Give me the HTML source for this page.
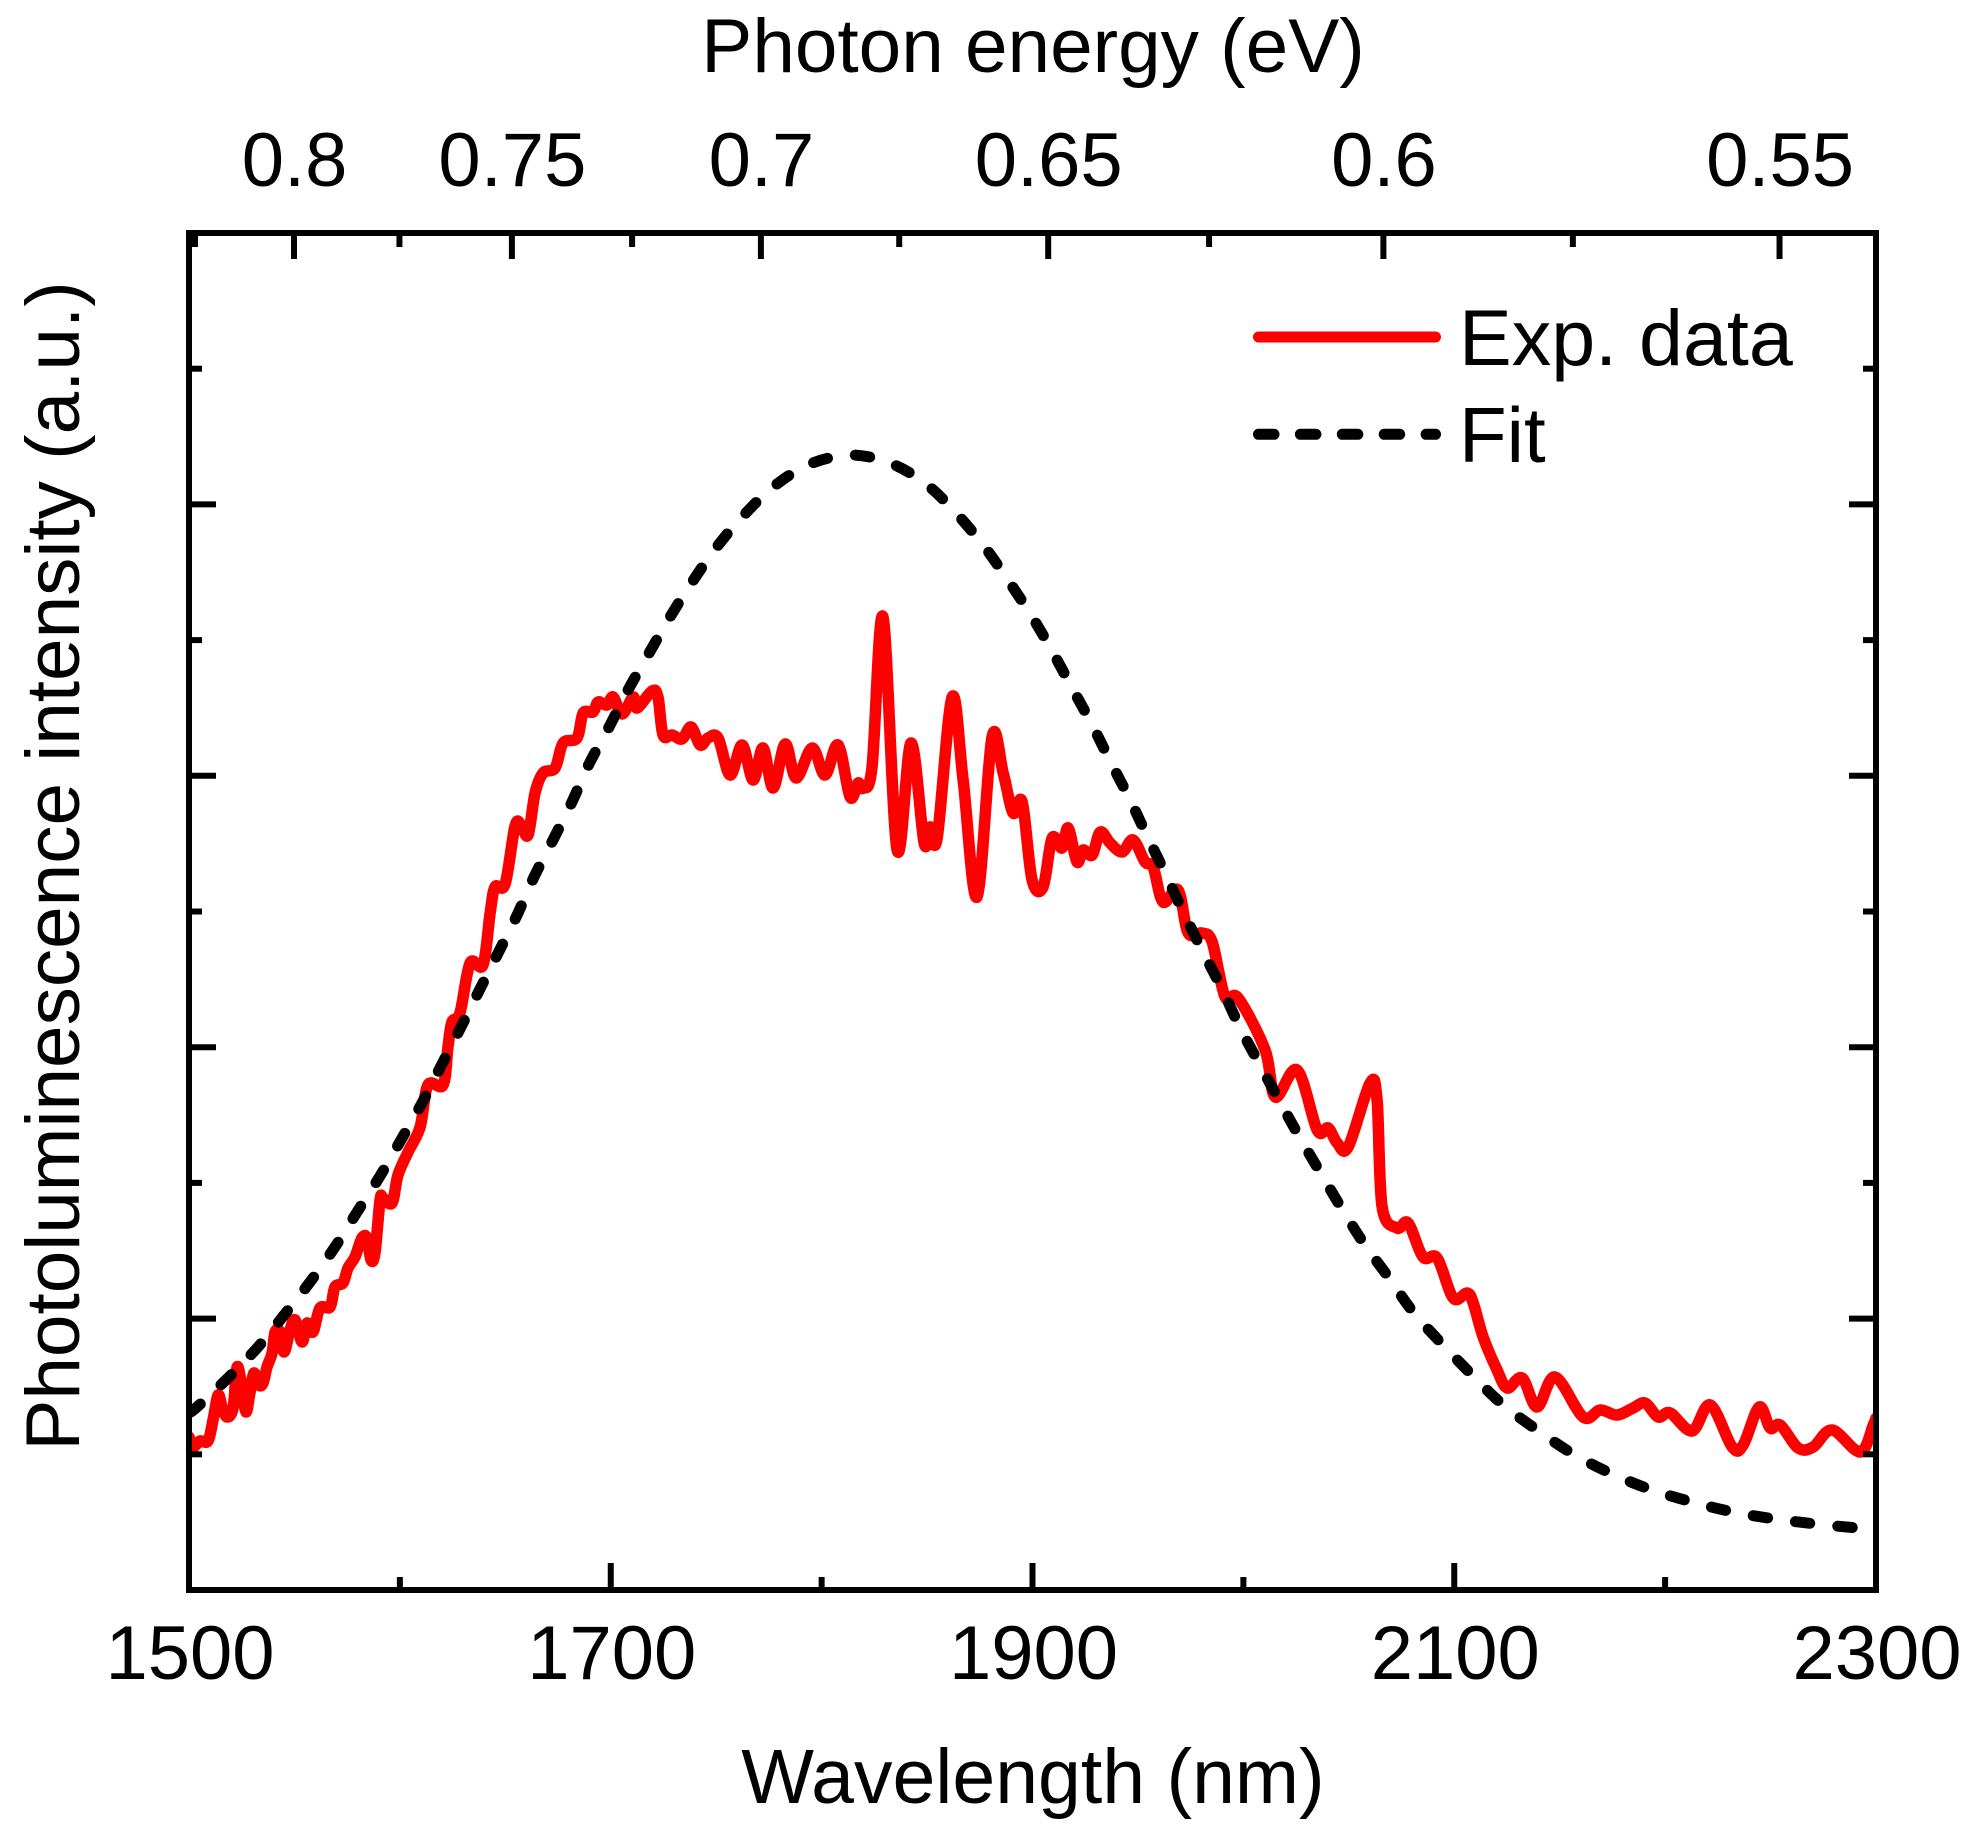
<!DOCTYPE html>
<html lang="en">
<head>
<meta charset="utf-8">
<title>Photoluminescence spectrum</title>
<style>
html,body{margin:0;padding:0;background:#fff;}
svg{display:block;}
text{font-family:"Liberation Sans",Arial,sans-serif;font-size:76.5px;fill:#000;}
</style>
</head>
<body>
<svg id="chart" xmlns="http://www.w3.org/2000/svg" width="1975" height="1833" viewBox="0 0 1975 1833">
  <defs>
    <clipPath id="plot-clip"><rect x="188.5" y="236" width="1685" height="1351"/></clipPath>
  </defs>
  <rect x="0" y="0" width="1975" height="1833" fill="#fff"/>
  <g id="series" clip-path="url(#plot-clip)"></g>
  <g id="axes"></g>
  <text x="1033" y="72" text-anchor="middle">Photon energy (eV)</text>
  <text x="1033" y="1803" text-anchor="middle" style="font-size:77px">Wavelength (nm)</text>
  <text transform="translate(79,866) rotate(-90)" text-anchor="middle">Photoluminescence intensity (a.u.)</text>
  <g>
    <line x1="1258.5" y1="337" x2="1435.5" y2="337" stroke="#ff0000" stroke-width="11" stroke-linecap="round"/>
    <text x="1459" y="365" style="font-size:79px">Exp. data</text>
    <line x1="1258.5" y1="434.3" x2="1435.5" y2="434.3" stroke="#000" stroke-width="11" stroke-linecap="round" stroke-dasharray="15.5 26.4"/>
    <text x="1459" y="462" style="font-size:78px">Fit</text>
  </g>
</svg>
<script>
// Axis domains
const xDomain = [1500, 2300];
const yDomain = [0, 13.57];

// Tick values and labels
const xMajorTicks = [1500, 1700, 1900, 2100, 2300];
const xMinorTicks = [1600, 1800, 2000, 2200];
const xTickLabels = ['1500', '1700', '1900', '2100', '2300'];
const energyMajorTicks = [0.8, 0.75, 0.7, 0.65, 0.6, 0.55];
const energyMinorTicks = [0.825, 0.775, 0.725, 0.675, 0.625, 0.575];
const energyTickLabels = ['0.8', '0.75', '0.7', '0.65', '0.6', '0.55'];
const yMajorTicks = [0, 2.714, 5.428, 8.142, 10.856, 13.57];
const yMinorTicks = [1.357, 4.071, 6.785, 9.499, 12.213];

// Experimental spectrum
const expWavelength = [1500,1501.9,1505.2,1509,1511.4,1513.8,1515.7,1518,1520.9,1522.8,1525.1,1527,1528.9,1530.8,1533.2,1535.1,1537,1539.4,1540.8,1543.2,1545.1,1547.9,1550.3,1553.6,1556,1558.8,1562.1,1566.9,1569.2,1573,1575.4,1578.7,1582,1584.4,1586.3,1588.2,1590.6,1592,1596.3,1599.1,1603.9,1609.6,1613.3,1620.5,1622.8,1624.7,1628.5,1633.3,1639.4,1642.8,1645.1,1649.9,1654.6,1657.5,1660.8,1664.1,1667.9,1673.6,1677.4,1684,1686.9,1691.6,1694,1698.2,1701.1,1705.4,1710.6,1712.5,1719.6,1722.4,1724.8,1729.1,1733.8,1738.1,1742.4,1746.1,1750.9,1756.6,1762.3,1767.5,1772.2,1777,1782.7,1787.9,1795.5,1801.6,1807.8,1813.5,1817.3,1819.7,1823.9,1829.1,1835.8,1842.4,1848.6,1851.4,1854.8,1861.9,1867.1,1873.7,1880.8,1886.1,1890.8,1895.1,1899.8,1905,1909.3,1914,1916.9,1921.1,1924,1928.3,1932.1,1936.8,1942.5,1947.7,1953.4,1957.2,1961.9,1969,1973.8,1980.4,1985.2,1991.3,1997.5,2010.3,2015.1,2025.5,2035,2040.2,2044.5,2049.7,2060.1,2063.4,2065.8,2072.9,2078.1,2085.2,2091.9,2099.5,2106.1,2109,2113.7,2120.3,2125.1,2132.2,2139.3,2147.8,2161.1,2169.2,2177.2,2184.8,2190.5,2196.7,2202.4,2212.8,2221.4,2231.8,2237,2244.6,2249.8,2254.6,2263.1,2270.2,2279.2,2292.5,2298.7,2300];
const expIntensity = [1.53,1.43,1.49,1.49,1.7,1.95,1.83,1.73,1.82,2.23,2.03,1.78,1.97,2.17,2.05,2.07,2.23,2.37,2.58,2.58,2.38,2.6,2.7,2.48,2.67,2.58,2.82,2.83,3.03,3.07,3.22,3.33,3.52,3.52,3.3,3.37,3.9,3.92,3.87,4.15,4.38,4.63,5.05,5.05,5.43,5.68,5.77,6.27,6.25,6.77,7.03,7.06,7.64,7.65,7.55,7.97,8.17,8.22,8.47,8.52,8.77,8.78,8.88,8.85,8.93,8.76,8.93,8.82,8.99,8.93,8.55,8.55,8.51,8.63,8.45,8.52,8.52,8.15,8.45,8.1,8.42,8.02,8.46,8.12,8.42,8.15,8.45,7.93,8.07,8.02,8.23,9.73,7.4,8.47,7.47,7.63,7.52,8.93,8.1,6.93,8.53,8.17,7.77,7.88,7.1,7.03,7.52,7.42,7.62,7.28,7.4,7.35,7.58,7.47,7.38,7.5,7.28,7.23,6.88,7,6.57,6.57,6.48,5.93,5.92,5.4,4.93,5.2,4.6,4.62,4.47,4.43,5.07,4.9,3.83,3.62,3.67,3.33,3.32,2.92,2.97,2.87,2.53,2.2,2.02,2.12,1.83,2.13,1.73,1.8,1.75,1.82,1.87,1.73,1.77,1.59,1.85,1.43,1.45,1.83,1.62,1.65,1.42,1.43,1.6,1.38,1.65,1.72];

// Fit curve
const fitWavelength = [1500,1503.8,1518,1532.3,1545.1,1557.4,1569.2,1579.7,1590.6,1600.5,1610.5,1619.5,1628.5,1637.5,1646.6,1655.6,1663.6,1672.6,1681.6,1689.7,1699.2,1708.2,1718.2,1728.1,1738.6,1749.9,1762.3,1777,1794.5,1814.4,1833.4,1849.5,1863.3,1876.6,1888,1899.3,1909.3,1918.8,1928.3,1937.3,1946.3,1954.8,1963.8,1971.9,1980.9,1989.9,1998.5,2007.9,2017.4,2026.9,2036.9,2046.8,2057.3,2069.1,2080.5,2093.8,2108,2122.7,2139.3,2156.4,2174.9,2193.8,2212.8,2232.3,2252.2,2271.6,2291.6,2300];
const fitIntensity = [1.77,1.83,2.11,2.42,2.75,3.08,3.43,3.78,4.14,4.5,4.87,5.24,5.61,5.99,6.37,6.75,7.13,7.5,7.88,8.26,8.63,9,9.37,9.73,10.08,10.42,10.73,11.03,11.26,11.35,11.26,11.06,10.78,10.45,10.11,9.75,9.39,9.02,8.65,8.27,7.9,7.52,7.13,6.76,6.38,6.01,5.62,5.25,4.88,4.52,4.16,3.81,3.46,3.12,2.78,2.47,2.16,1.86,1.6,1.36,1.16,1,0.88,0.78,0.71,0.66,0.62,0.61];

const NS = 'http://www.w3.org/2000/svg';
const plotLeft = 189, plotRight = 1876, plotTop = 233, plotBottom = 1590;

function xScale(nm) {
  return plotLeft + (nm - xDomain[0]) / (xDomain[1] - xDomain[0]) * (plotRight - plotLeft);
}
function yScale(v) {
  return plotBottom - (v - yDomain[0]) / (yDomain[1] - yDomain[0]) * (plotBottom - plotTop);
}
function energyToWavelength(eV) {
  return 1239.84 / eV;
}
function smoothPath(xs, ys) {
  const pts = xs.map(function (x, i) { return [xScale(x), yScale(ys[i])]; });
  let d = 'M' + pts[0][0].toFixed(2) + ' ' + pts[0][1].toFixed(2);
  for (let i = 0; i < pts.length - 1; i++) {
    const p0 = pts[Math.max(0, i - 1)], p1 = pts[i], p2 = pts[i + 1], p3 = pts[Math.min(pts.length - 1, i + 2)];
    const c1x = p1[0] + (p2[0] - p0[0]) / 6, c1y = p1[1] + (p2[1] - p0[1]) / 6;
    const c2x = p2[0] - (p3[0] - p1[0]) / 6, c2y = p2[1] - (p3[1] - p1[1]) / 6;
    d += 'C' + c1x.toFixed(2) + ' ' + c1y.toFixed(2) + ' ' + c2x.toFixed(2) + ' ' + c2y.toFixed(2) + ' ' + p2[0].toFixed(2) + ' ' + p2[1].toFixed(2);
  }
  return d;
}

const axes = document.getElementById('axes');
const series = document.getElementById('series');

function addLine(x1, y1, x2, y2) {
  const el = document.createElementNS(NS, 'line');
  el.setAttribute('x1', x1);
  el.setAttribute('y1', y1);
  el.setAttribute('x2', x2);
  el.setAttribute('y2', y2);
  el.setAttribute('stroke', '#000');
  el.setAttribute('stroke-width', '6');
  axes.appendChild(el);
  return el;
}
function addLabel(x, y, str) {
  const el = document.createElementNS(NS, 'text');
  el.setAttribute('x', x);
  el.setAttribute('y', y);
  el.setAttribute('text-anchor', 'middle');
  el.setAttribute('style', 'font-size:76px');
  el.textContent = str;
  axes.appendChild(el);
  return el;
}

// Series
const expPath = document.createElementNS(NS, 'path');


expPath.setAttribute('d', smoothPath(expWavelength, expIntensity));
expPath.setAttribute('fill', 'none');
expPath.setAttribute('stroke', '#ff0000');
expPath.setAttribute('stroke-width', '11.5');
expPath.setAttribute('stroke-linejoin', 'round');
expPath.setAttribute('stroke-linecap', 'round');
series.appendChild(expPath);

const fitPath = document.createElementNS(NS, 'path');


fitPath.setAttribute('d', smoothPath(fitWavelength, fitIntensity));
fitPath.setAttribute('fill', 'none');
fitPath.setAttribute('stroke', '#000');
fitPath.setAttribute('stroke-width', '11');
fitPath.setAttribute('stroke-linecap', 'round');
fitPath.setAttribute('stroke-dasharray', '14.5 28.1');
series.appendChild(fitPath);

// Frame
const frame = document.createElementNS(NS, 'rect');


frame.setAttribute('x', plotLeft);
frame.setAttribute('y', plotTop);
frame.setAttribute('width', plotRight - plotLeft);
frame.setAttribute('height', plotBottom - plotTop);
frame.setAttribute('fill', 'none');
frame.setAttribute('stroke', '#000');
frame.setAttribute('stroke-width', '6');
axes.appendChild(frame);

// Bottom axis
xMajorTicks.forEach(function (t, i) {
  const tick = addLine(xScale(t), plotBottom, xScale(t), plotBottom - 27);
  
  
  const label = addLabel(xScale(t) + 1, 1679, xTickLabels[i]);
  
  
});
xMinorTicks.forEach(function (t) {
  const tick = addLine(xScale(t), plotBottom, xScale(t), plotBottom - 13);
  
  
});

// Top axis
energyMajorTicks.forEach(function (e, i) {
  const px = xScale(energyToWavelength(e));
  const tick = addLine(px, plotTop, px, plotTop + 26);
  
  
  const label = addLabel(px + 0.5, 186, energyTickLabels[i]);
  
  
});
energyMinorTicks.forEach(function (e) {
  const px = xScale(energyToWavelength(e));
  const tick = addLine(px, plotTop, px, plotTop + 14);
  
  
});

// Left and right axes
yMajorTicks.forEach(function (v) {
  const left = addLine(plotLeft, yScale(v), plotLeft + 27, yScale(v));
  
  
  const right = addLine(plotRight, yScale(v), plotRight - 27, yScale(v));
  
  
});
yMinorTicks.forEach(function (v) {
  const left = addLine(plotLeft, yScale(v), plotLeft + 13, yScale(v));
  
  
  const right = addLine(plotRight, yScale(v), plotRight - 13, yScale(v));
  
  
});
</script>
</body>
</html>
